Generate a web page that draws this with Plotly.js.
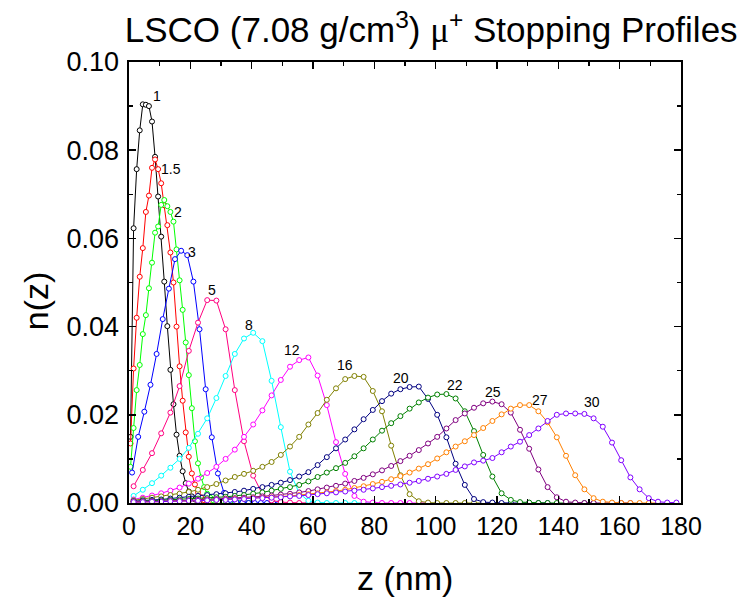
<!DOCTYPE html>
<html>
<head>
<meta charset="utf-8">
<script src="https://cdn.plot.ly/plotly-3.0.1.min.js"></script>
<style>html,body{margin:0;padding:0;background:#fff;}#chart{width:746px;height:602px;}</style>
</head>
<body>
<div id="chart"></div>
<script>
// depth bin centres (nm)
var z1nm = [0.5,1.5,2.5,3.5,4.5,5.5,6.5,7.5,8.5,9.5,10.5,11.5,12.5,13.5,14.5,15.5,16.5,17.5,18.5,19.5,20.5,21.5,22.5,23.5,24.5,25.5,26.5,27.5,28.5,29.5,30.5,31.5,32.5,33.5,34.5,35.5,36.5,37.5,38.5,39.5,40.5];
var z2nm = [1,3,5,7,9,11,13,15,17,19,21,23,25,27,29,31,33,35,37,39,41,43,45,47,49];
var z3nm = [1.5,4.5,7.5,10.5,13.5,16.5,19.5,22.5,25.5,28.5,31.5,34.5,37.5,40.5,43.5,46.5,49.5,52.5,55.5,58.5,61.5,64.5,67.5,70.5,73.5,76.5,79.5,82.5,85.5,88.5,91.5,94.5,97.5,100.5,103.5,106.5,109.5,112.5,115.5,118.5,121.5,124.5,127.5,130.5,133.5,136.5,139.5,142.5,145.5,148.5,151.5,154.5,157.5,160.5,163.5,166.5,169.5,172.5,175.5,178.5];

// implantation energies (keV)
var energies = ['1','1.5','2','3','5','8','12','16','20','22','25','27','30'];

// n(z) values
var n_1keV = [0.015,0.0623,0.0757,0.0845,0.0904,0.0903,0.0900,0.0865,0.0785,0.0695,0.0604,0.0502,0.0401,0.0302,0.0224,0.0155,0.0107,0.0072,0.0045,0.0026,0.0015,0.0008,0.0004,0.0002,0.0001,0,0,0,0,0,0];
var n_1p5keV = [0.0135,0.0305,0.0420,0.0513,0.0578,0.0660,0.0697,0.0760,0.0779,0.0757,0.0725,0.0675,0.0630,0.0568,0.0500,0.0400,0.0310,0.0232,0.0160,0.0105,0.0067,0.0042,0.0024,0.0013,0.0006,0.0003,0.0001,0,0,0,0,0,0,0,0,0];
var n_2keV = [0.0082,0.0170,0.0256,0.0313,0.0383,0.0426,0.0487,0.0545,0.0613,0.0627,0.0676,0.0687,0.0673,0.0660,0.0638,0.0575,0.0505,0.0438,0.0364,0.0290,0.0215,0.0140,0.0090,0.0058,0.0036,0.0021,0.0012,0.0006,0.0003,0.0001,0,0,0,0,0,0,0,0,0,0,0];
var n_3keV = [0.0069,0.0150,0.0207,0.0268,0.0338,0.0417,0.0486,0.0553,0.0572,0.0562,0.0502,0.0394,0.0258,0.0149,0.0067,0.0023,0.0007,0.0002,0.0001,0,0,0,0,0,0];
var n_5keV = [0.0038,0.0075,0.0113,0.0158,0.0205,0.0265,0.0345,0.0409,0.0460,0.0459,0.0394,0.0256,0.0140,0.0062,0.0020,0.0006,0.0002,0.0001,0,0,0];
var n_8keV = [0.0016,0.0030,0.0045,0.0062,0.0080,0.0100,0.0125,0.0157,0.0192,0.0238,0.0288,0.0338,0.0373,0.0386,0.0367,0.0277,0.0172,0.0071,0.0022,0.0005,0.0001,0,0,0,0,0,0];
var n_12keV = [0.0008,0.0012,0.0017,0.0022,0.0028,0.0035,0.0044,0.0055,0.0068,0.0082,0.0100,0.0121,0.0150,0.0178,0.0210,0.0244,0.0279,0.0309,0.0324,0.0330,0.0289,0.0222,0.0138,0.0066,0.0016,0.0003,0.0001,0,0,0,0,0,0];
var n_16keV = [0.0006,0.0009,0.0012,0.0015,0.0018,0.0021,0.0025,0.0030,0.0036,0.0043,0.0051,0.0059,0.0066,0.0073,0.0082,0.0093,0.0109,0.0128,0.0150,0.0178,0.0204,0.0234,0.0260,0.0281,0.0288,0.0286,0.0254,0.0208,0.0130,0.0063,0.0020,0.0004,0.0001,0,0,0,0,0,0,0];
var n_20keV = [0.0004,0.0006,0.0007,0.0008,0.0010,0.0012,0.0014,0.0016,0.0018,0.0020,0.0022,0.0025,0.0028,0.0032,0.0036,0.0041,0.0046,0.0052,0.0060,0.0070,0.0086,0.0104,0.0124,0.0144,0.0167,0.0190,0.0211,0.0231,0.0248,0.0258,0.0263,0.0264,0.0236,0.0200,0.0149,0.0089,0.0041,0.0009,0.0002,0.0001,0,0,0,0,0,0];
var n_22keV = [0.0003,0.0004,0.0005,0.0006,0.0007,0.0008,0.0009,0.0010,0.0011,0.0013,0.0014,0.0016,0.0018,0.0021,0.0024,0.0028,0.0032,0.0036,0.0041,0.0049,0.0059,0.0069,0.0079,0.0091,0.0106,0.0124,0.0144,0.0164,0.0181,0.0197,0.0214,0.0228,0.0239,0.0246,0.0247,0.0237,0.0208,0.0163,0.0109,0.0060,0.0022,0.0007,0.0002,0.0001,0,0,0,0,0,0,0];
var n_25keV = [0.0003,0.0003,0.0004,0.0004,0.0005,0.0005,0.0006,0.0007,0.0008,0.0009,0.0010,0.0011,0.0012,0.0013,0.0015,0.0017,0.0019,0.0021,0.0024,0.0027,0.0031,0.0035,0.0039,0.0044,0.0050,0.0057,0.0065,0.0074,0.0084,0.0095,0.0107,0.0120,0.0135,0.0150,0.0169,0.0188,0.0203,0.0216,0.0226,0.0230,0.0224,0.0205,0.0166,0.0123,0.0076,0.0036,0.0013,0.0003,0.0001,0,0,0,0,0,0];
var n_27keV = [0.0002,0.0002,0.0003,0.0003,0.0004,0.0004,0.0005,0.0005,0.0006,0.0007,0.0008,0.0009,0.0010,0.0011,0.0012,0.0013,0.0014,0.0016,0.0018,0.0020,0.0022,0.0024,0.0027,0.0030,0.0034,0.0038,0.0043,0.0048,0.0054,0.0061,0.0069,0.0078,0.0088,0.0101,0.0115,0.0128,0.0140,0.0154,0.0170,0.0186,0.0201,0.0214,0.0222,0.0222,0.0208,0.0183,0.0149,0.0107,0.0063,0.0031,0.0011,0.0003,0.0001,0,0,0,0,0];
var n_30keV = [0.0002,0.0002,0.0003,0.0003,0.0004,0.0004,0.0005,0.0005,0.0006,0.0007,0.0007,0.0008,0.0009,0.0010,0.0011,0.0012,0.0013,0.0015,0.0016,0.0018,0.0020,0.0022,0.0024,0.0026,0.0028,0.0030,0.0033,0.0036,0.0039,0.0042,0.0046,0.0050,0.0055,0.0060,0.0066,0.0075,0.0083,0.0092,0.0096,0.0102,0.0115,0.0128,0.0139,0.0154,0.0169,0.0186,0.0200,0.0203,0.0203,0.0202,0.0192,0.0173,0.0137,0.0097,0.0058,0.0031,0.0011,0.0003,0.0001,0.0001];

// peak label positions (data units)
var labelX = [9.0,13.8,16.0,20.7,27.2,39.1,53.0,70.3,88.6,106.2,118.7,134.1,151.1];
var labelY = [0.0923,0.0757,0.0660,0.0570,0.0483,0.0404,0.0347,0.0314,0.0283,0.0268,0.0252,0.0234,0.0230];

var seriesValues = [n_1keV,n_1p5keV,n_2keV,n_3keV,n_5keV,n_8keV,n_12keV,n_16keV,n_20keV,n_22keV,n_25keV,n_27keV,n_30keV];
var seriesGrid = [z1nm,z1nm,z1nm,z2nm,z3nm,z3nm,z3nm,z3nm,z3nm,z3nm,z3nm,z3nm,z3nm];
var colors = ['#000000','#FF0000','#00FF00','#0000FF','#FF0080','#00FFFF','#FF00FF','#808000','#000080','#008000','#800080','#FF8000','#8000FF'];

var FONT = 'Liberation Sans, Arial, Helvetica, sans-serif';

var traces = seriesValues.map(function(v, i){
  return {
    x: seriesGrid[i].slice(0, v.length),
    y: v,
    name: energies[i] + ' keV',
    type: 'scatter',
    mode: 'lines+markers',
    line: {color: colors[i], width: 1},
    marker: {symbol: 'circle', size: 5, color: '#ffffff', line: {color: colors[i], width: 1}},
    hoverinfo: 'x+y+name'
  };
});

var annotations = energies.map(function(e, i){
  return {x: labelX[i], y: labelY[i], xref: 'x', yref: 'y', text: e, showarrow: false,
          font: {family: FONT, size: 14, color: '#000'}, xanchor: 'center', yanchor: 'middle'};
});
annotations.push({xref: 'paper', yref: 'paper', x: 0.5, y: -0.17, text: 'z (nm)', showarrow: false,
  font: {family: FONT, size: 34, color: '#000'}, xanchor: 'center', yanchor: 'middle'});
annotations.push({xref: 'paper', yref: 'paper', x: -0.1685, y: 0.46, text: 'n(z)', showarrow: false, textangle: -90,
  font: {family: FONT, size: 34, color: '#000'}, xanchor: 'center', yanchor: 'middle'});

var layout = {
  width: 746, height: 602,
  margin: {l: 129, r: 65, t: 62, b: 99, pad: 0},
  paper_bgcolor: '#ffffff', plot_bgcolor: '#ffffff',
  showlegend: false,
  font: {family: FONT, color: '#000'},
  title: {
    text: 'LSCO (7.08 g/cm<sup>3</sup>) <span style="font-family:Liberation Serif">μ</span><sup>+</sup> Stopping Profiles',
    x: 0.578, xref: 'container', xanchor: 'center',
    y: 0.950, yref: 'container', yanchor: 'middle',
    font: {family: FONT, size: 35, color: '#000'}
  },
  xaxis: {
    range: [0, 180], dtick: 20, tick0: 0,
    showgrid: false, zeroline: false,
    showline: true, linecolor: '#000', linewidth: 1.6, mirror: 'allticks',
    ticks: 'inside', ticklen: 7, tickwidth: 1.5, tickcolor: '#000',
    ticklabelstandoff: 0,
    minor: {dtick: 10, ticks: 'inside', ticklen: 4, tickwidth: 1.5, tickcolor: '#000', showgrid: false},
    tickfont: {family: FONT, size: 25, color: '#000'}
  },
  yaxis: {
    range: [0, 0.1], dtick: 0.02, tick0: 0, tickformat: '.2f',
    showgrid: false, zeroline: false,
    showline: true, linecolor: '#000', linewidth: 1.6, mirror: 'allticks',
    ticks: 'inside', ticklen: 7, tickwidth: 1.5, tickcolor: '#000',
    ticklabelstandoff: 3,
    minor: {dtick: 0.01, ticks: 'inside', ticklen: 4, tickwidth: 1.5, tickcolor: '#000', showgrid: false},
    tickfont: {family: FONT, size: 27, color: '#000'}
  },
  annotations: annotations
};

Plotly.newPlot('chart', traces, layout, {displayModeBar: false, staticPlot: true});
</script>
</body>
</html>
